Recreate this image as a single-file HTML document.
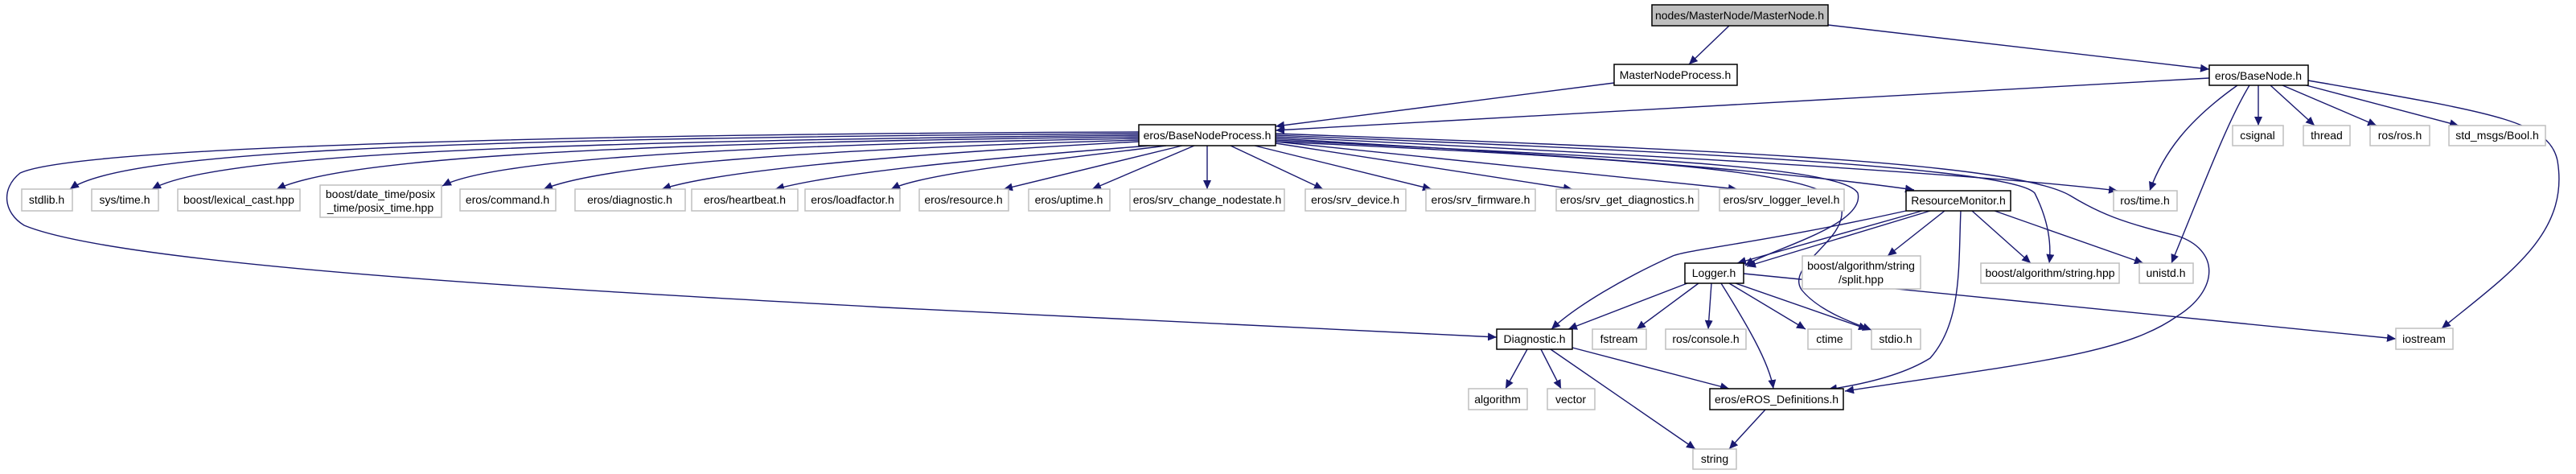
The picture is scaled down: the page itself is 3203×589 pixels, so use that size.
<!DOCTYPE html>
<html><head><meta charset="utf-8"><style>
html,body{margin:0;padding:0;background:#fff}
svg{display:block}
text{font-family:"Liberation Sans",Arial,sans-serif;font-size:14px;fill:#000}
.g{fill:#fff;stroke:#bfbfbf;stroke-width:1.5}
.b{fill:#fff;stroke:#000;stroke-width:1.5}
.e{fill:none;stroke:#191970;stroke-width:1.4}
</style></head><body>
<svg width="3203" height="589" viewBox="0 0 3203 589" xmlns="http://www.w3.org/2000/svg">
<defs><marker id="a" markerUnits="userSpaceOnUse" markerWidth="12" markerHeight="10" refX="11" refY="5" orient="auto"><path d="M0,0 L11,5 L0,10 z" fill="#191970"/></marker></defs>
<g class="e" marker-end="url(#a)">
<path d="M2150,32 L2100,80"/>
<path d="M2273,31 L2747,86"/>
<path d="M2007,103 L1586,157"/>
<path d="M2747,97 L1586,162"/>
<path d="M2808,106 L2808,156"/>
<path d="M2823,106 L2878,156"/>
<path d="M2838,106 L2955,156"/>
<path d="M2860,104 L3057,156"/>
<path d="M2782,106 C2720,150 2690,190 2673,237"/>
<path d="M2797,106 C2770,150 2740,230 2700,327"/>
<path d="M2870,100 C3100,140 3170,150 3180,200 C3195,290 3120,340 3036,408"/>
<path d="M1416,166 C500,172 150,190 87,235"/>
<path d="M1416,168 C600,176 260,195 189,235"/>
<path d="M1416,170 C700,178 420,200 344,235"/>
<path d="M1416,172 C800,182 600,205 550,231"/>
<path d="M1416,174 C1000,186 750,205 676,235"/>
<path d="M1416,176 C1150,190 900,210 823,235"/>
<path d="M1430,181 C1250,195 1050,212 964,235"/>
<path d="M1450,181 C1300,200 1150,215 1108,235"/>
<path d="M1470,181 L1248,235"/>
<path d="M1485,181 L1358,235"/>
<path d="M1501,181 L1501,235"/>
<path d="M1530,181 L1645,235"/>
<path d="M1560,181 L1780,235"/>
<path d="M1586,178 L1955,235"/>
<path d="M1586,176 L2160,235"/>
<path d="M1586,172 C1900,190 2200,210 2380,236"/>
<path d="M1586,170 C2000,190 2450,215 2633,237"/>
<path d="M1586,168 C2000,185 2500,205 2530,240 C2550,280 2550,310 2548,327"/>
<path d="M1586,166 C2100,185 2500,200 2574,243 C2610,265 2640,277 2707,293 C2760,310 2760,360 2707,393 C2640,440 2530,450 2294,486"/>
<path d="M1586,174 C2000,195 2290,205 2310,240 C2320,280 2200,310 2170,330"/>
<path d="M1586,176 C2100,200 2280,215 2290,260 C2295,300 2220,330 2240,360 C2260,385 2300,400 2327,410"/>
<path d="M1416,164 C800,166 100,180 25,215 C0,235 5,265 30,280 C150,330 700,360 1100,382 L1861,419"/>
<path d="M2390,262 L2160,327"/>
<path d="M2400,262 L2172,331"/>
<path d="M2370,262 C2200,300 2100,310 2080,318 C2020,345 1960,380 1929,409"/>
<path d="M2418,262 L2347,318"/>
<path d="M2452,262 L2525,327"/>
<path d="M2480,262 L2665,327"/>
<path d="M2438,262 C2435,330 2440,400 2400,445 C2360,470 2300,480 2273,484"/>
<path d="M2098,352 L1950,409"/>
<path d="M2112,352 L2035,409"/>
<path d="M2128,352 L2124,409"/>
<path d="M2140,352 C2170,400 2200,450 2205,483"/>
<path d="M2150,352 L2245,409"/>
<path d="M2158,352 L2322,409"/>
<path d="M2168,340 L2979,421"/>
<path d="M1899,434 L1872,483"/>
<path d="M1916,434 L1941,483"/>
<path d="M1928,434 L2108,558"/>
<path d="M1955,432 L2150,483"/>
<path d="M2195,509 L2150,558"/>
</g>
<!-- nodes -->
<rect x="2054" y="6" width="219" height="26" fill="#bfbfbf" stroke="#000" stroke-width="1.5"/><text x="2163" y="24" text-anchor="middle">nodes/MasterNode/MasterNode.h</text>
<rect class="b" x="2007" y="80" width="153" height="26"/><text x="2083" y="98" text-anchor="middle">MasterNodeProcess.h</text>
<rect class="b" x="2747" y="81" width="123" height="25"/><text x="2808" y="99" text-anchor="middle">eros/BaseNode.h</text>
<rect class="b" x="1416" y="155" width="170" height="26"/><text x="1501" y="173" text-anchor="middle">eros/BaseNodeProcess.h</text>
<g text-anchor="middle">
<rect class="g" x="27" y="235" width="63" height="27"/><text x="58" y="253">stdlib.h</text>
<rect class="g" x="114" y="235" width="83" height="27"/><text x="155" y="253">sys/time.h</text>
<rect class="g" x="221" y="235" width="152" height="27"/><text x="297" y="253">boost/lexical_cast.hpp</text>
<rect class="g" x="398" y="230" width="151" height="40"/><text x="473" y="246">boost/date_time/posix</text><text x="473" y="263">_time/posix_time.hpp</text>
<rect class="g" x="572" y="235" width="119" height="27"/><text x="631" y="253">eros/command.h</text>
<rect class="g" x="715" y="235" width="137" height="27"/><text x="783" y="253">eros/diagnostic.h</text>
<rect class="g" x="860" y="235" width="132" height="27"/><text x="926" y="253">eros/heartbeat.h</text>
<rect class="g" x="1001" y="235" width="118" height="27"/><text x="1060" y="253">eros/loadfactor.h</text>
<rect class="g" x="1143" y="235" width="111" height="27"/><text x="1198" y="253">eros/resource.h</text>
<rect class="g" x="1279" y="235" width="101" height="27"/><text x="1329" y="253">eros/uptime.h</text>
<rect class="g" x="1405" y="235" width="192" height="27"/><text x="1501" y="253">eros/srv_change_nodestate.h</text>
<rect class="g" x="1623" y="235" width="125" height="27"/><text x="1685" y="253">eros/srv_device.h</text>
<rect class="g" x="1773" y="235" width="136" height="27"/><text x="1841" y="253">eros/srv_firmware.h</text>
<rect class="g" x="1935" y="235" width="177" height="27"/><text x="2023" y="253">eros/srv_get_diagnostics.h</text>
<rect class="g" x="2138" y="235" width="155" height="27"/><text x="2215" y="253">eros/srv_logger_level.h</text>
<rect class="b" x="2370" y="237" width="130" height="25"/><text x="2435" y="254">ResourceMonitor.h</text>
<rect class="g" x="2628" y="237" width="79" height="25"/><text x="2667" y="254">ros/time.h</text>
<rect class="g" x="2776" y="156" width="63" height="25"/><text x="2807" y="173">csignal</text>
<rect class="g" x="2864" y="156" width="58" height="25"/><text x="2893" y="173">thread</text>
<rect class="g" x="2947" y="156" width="74" height="25"/><text x="2984" y="173">ros/ros.h</text>
<rect class="g" x="3045" y="156" width="120" height="25"/><text x="3105" y="173">std_msgs/Bool.h</text>
<rect class="b" x="2095" y="327" width="73" height="25"/><text x="2131" y="344">Logger.h</text>
<rect class="g" x="2241" y="318" width="147" height="41"/><text x="2314" y="335">boost/algorithm/string</text><text x="2314" y="352">/split.hpp</text>
<rect class="g" x="2463" y="327" width="172" height="25"/><text x="2549" y="344">boost/algorithm/string.hpp</text>
<rect class="g" x="2660" y="327" width="67" height="25"/><text x="2693" y="344">unistd.h</text>
<rect class="b" x="1861" y="409" width="94" height="25"/><text x="1908" y="426">Diagnostic.h</text>
<rect class="g" x="1980" y="409" width="67" height="25"/><text x="2013" y="426">fstream</text>
<rect class="g" x="2071" y="409" width="100" height="25"/><text x="2121" y="426">ros/console.h</text>
<rect class="g" x="2248" y="409" width="54" height="25"/><text x="2275" y="426">ctime</text>
<rect class="g" x="2327" y="409" width="61" height="25"/><text x="2357" y="426">stdio.h</text>
<rect class="g" x="2979" y="408" width="71" height="26"/><text x="3014" y="426">iostream</text>
<rect class="g" x="1826" y="483" width="73" height="26"/><text x="1862" y="501">algorithm</text>
<rect class="g" x="1924" y="483" width="59" height="26"/><text x="1953" y="501">vector</text>
<rect class="b" x="2126" y="483" width="166" height="26"/><text x="2209" y="501">eros/eROS_Definitions.h</text>
<rect class="g" x="2105" y="558" width="54" height="25"/><text x="2132" y="575">string</text>
</g>
</svg>
</body></html>
